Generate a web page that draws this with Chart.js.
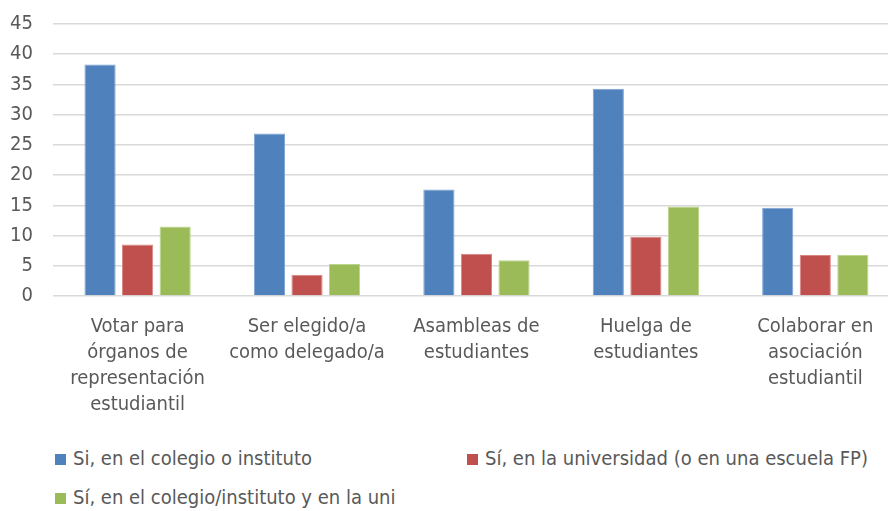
<!DOCTYPE html>
<html>
<head>
<meta charset="utf-8">
<script src="https://cdn.jsdelivr.net/npm/chart.js@4.4.1/dist/chart.umd.min.js"></script>
<style>
    html, body { margin: 0; padding: 0; background: #fff; overflow: hidden; }
    #wrap { position: relative; width: 888px; height: 511px; overflow: hidden; }
    /* shifted so the plot lines up with the original crop */
    #chartBox { position: absolute; left: -22px; top: -8px; width: 922px; height: 436px; }
    .leg { position: absolute; font-family: 'Liberation Sans Narrow', 'DejaVu Sans Condensed', sans-serif;
           font-size: 20px; color: #595959; white-space: nowrap; line-height: 24px; }
    .leg span { display: inline-block; width: 11px; height: 11px; margin-right: 7px; vertical-align: 0px; }
</style>
</head>
<body>
<div id="wrap">
    <div id="chartBox"><canvas id="participationChart"></canvas></div>
    <div id="legend"></div>
</div>
<script>
// Categories and series
const categories = [
    ['Votar para', 'órganos de', 'representación', 'estudiantil'],
    ['Ser elegido/a', 'como delegado/a'],
    ['Asambleas de', 'estudiantes'],
    ['Huelga de', 'estudiantes'],
    ['Colaborar en', 'asociación', 'estudiantil']
];
const seriesNames = [
    'Si, en el colegio o instituto',
    'Sí, en la universidad (o en una escuela FP)',
    'Sí, en el colegio/instituto y en la uni'
];
const colegio = [38.3, 26.9, 17.6, 34.3, 14.6];
const universidad = [8.5, 3.5, 7.0, 9.8, 6.8];
const ambos = [11.5, 5.3, 5.9, 14.8, 6.8];
const yTicks = [0, 5, 10, 15, 20, 25, 30, 35, 40, 45];

const fills = ['#4f81bd', '#c0504d', '#9bbb59'];
const edges = ['#7da2d1', '#d88784', '#bcd58c'];
const textColor = '#595959';
const fontFamily = "'Liberation Sans Narrow', 'DejaVu Sans Condensed', sans-serif";

document.addEventListener('DOMContentLoaded', function() {
    const ctx = document.getElementById('participationChart');
    const values = [colegio, universidad, ambos];

    new Chart(ctx, {
        type: 'bar',
        data: {
            labels: categories,
            datasets: values.map((v, i) => ({
                label: seriesNames[i],
                data: v,
                backgroundColor: fills[i],
                borderColor: edges[i],
                borderWidth: 1,
                categoryPercentage: 0.665,
                barPercentage: 0.83
            }))
        },
        options: {
            responsive: true,
            maintainAspectRatio: false,
            animation: false,
            layout: {
                padding: { left: 12, top: 4, right: 0, bottom: 0 }
            },
            plugins: {
                legend: { display: false },
                tooltip: { enabled: false }
            },
            scales: {
                x: {
                    grid: { display: false },
                    border: { display: false },
                    ticks: {
                        color: textColor,
                        padding: 10,
                        maxRotation: 0,
                        autoSkip: false,
                        font: { family: fontFamily, size: 20, lineHeight: 1.3 }
                    }
                },
                y: {
                    min: 0,
                    max: 45,
                    afterBuildTicks: axis => { axis.ticks = yTicks.map(v => ({ value: v })); },
                    grid: { color: '#d9d9d9', lineWidth: 1.5, drawTicks: false },
                    border: { display: false },
                    ticks: {
                        color: textColor,
                        padding: 20,
                        font: { family: fontFamily, size: 20 }
                    }
                }
            }
        }
    });

    // Legend laid out in two columns like the original
    const legendSpots = [[55, 446], [467, 446], [55, 485]];
    const legend = document.getElementById('legend');
    seriesNames.forEach((name, i) => {
        const item = document.createElement('div');
        item.className = 'leg';
        item.style.left = legendSpots[i][0] + 'px';
        item.style.top = legendSpots[i][1] + 'px';
        item.innerHTML = '<span style="background:' + fills[i] + '"></span>' + name;
        legend.appendChild(item);
    });
});
</script>
</body>
</html>
